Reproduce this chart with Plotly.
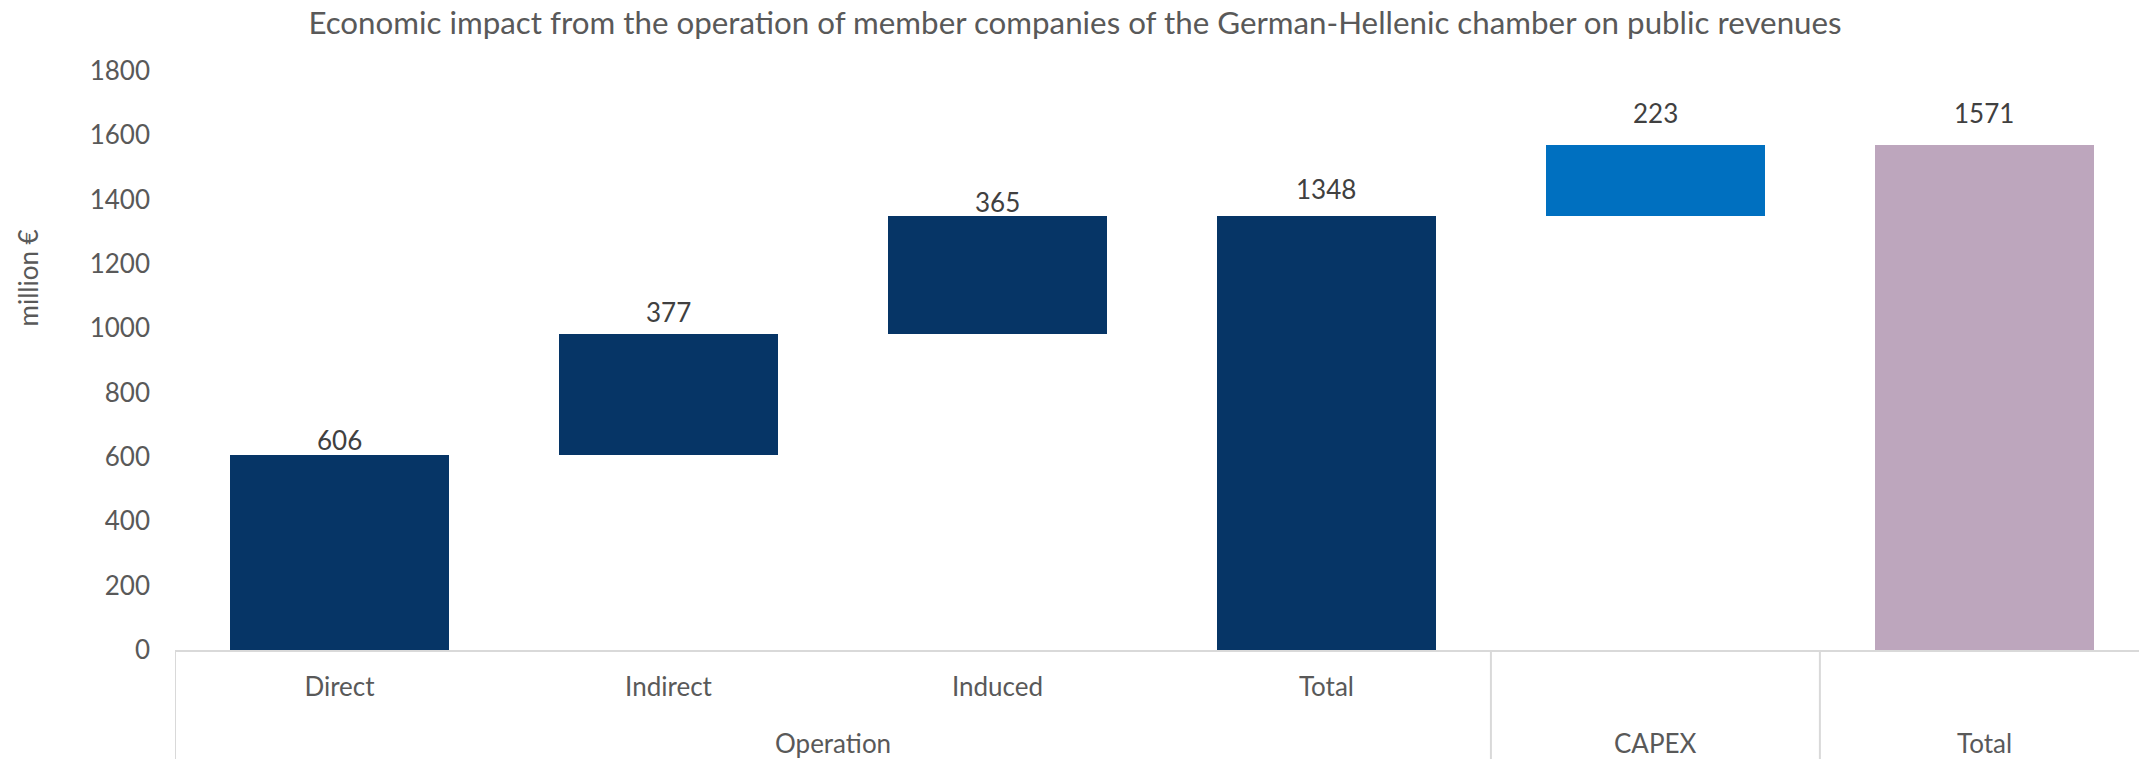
import plotly.graph_objects as go

# ---- data ----
bar_ids = ["Direct", "Indirect", "Induced", "Operation total", "CAPEX", "Grand total"]
inner_labels = ["Direct", "Indirect", "Induced", "Total", "", ""]
group_labels = ["Operation", "CAPEX", "Total"]
group_sizes = [4, 1, 1]
values = [606, 377, 365, 1348, 223, 1571]
measures = ["relative", "relative", "relative", "total", "relative", "total"]
y_ticks = [0, 200, 400, 600, 800, 1000, 1200, 1400, 1600, 1800]

# ---- styling ----
NAVY = "#063566"
BLUE = "#0070C0"
LILAC = "#BDA6BD"
bar_colors = [NAVY, NAVY, NAVY, NAVY, BLUE, LILAC]
label_shift_px = [15, 22, 14, 27, 32, 32]
FONT = "Lato"
AXIS_GREY = "#595959"
LABEL_GREY = "#404040"
LINE_GREY = "#D9D9D9"
FS = 26

# waterfall bases computed from values
bases = []
running = 0
for v, m in zip(values, measures):
    if m == "total":
        bases.append(0)
        running = v
    else:
        bases.append(running)
        running += v
tops = [b + v for b, v in zip(bases, values)]

fig = go.Figure()
fig.add_trace(go.Bar(
    x=bar_ids, y=values, base=bases,
    marker=dict(color=bar_colors, line=dict(width=0)),
    width=0.668, hoverinfo="skip", showlegend=False,
))

W, H = 2139, 759
ML, MR, MT, MB = 175, 0, 71, 109
plot_h = H - MT - MB
plot_w = W - ML - MR
axis_y = H - MB

fig.update_layout(
    width=W, height=H,
    margin=dict(l=ML, r=MR, t=MT, b=MB),
    paper_bgcolor="white", plot_bgcolor="white",
    font=dict(family=FONT, color=AXIS_GREY, size=FS),
    title=dict(
        text="Economic impact from the operation of member companies of the German-Hellenic chamber on public revenues",
        x=1075 / W, xref="container", xanchor="center",
        y=1 - 23 / H, yref="container", yanchor="middle",
        font=dict(family=FONT, size=31.3, color=AXIS_GREY),
    ),
    xaxis=dict(
        type="category", categoryorder="array", categoryarray=bar_ids,
        range=[-0.5, 5.47],
        tickmode="array", tickvals=bar_ids, ticktext=inner_labels,
        showline=True, linecolor=LINE_GREY, linewidth=2,
        ticks="", showgrid=False, zeroline=False,
        ticklabelstandoff=13,
        tickfont=dict(family=FONT, size=FS, color=AXIS_GREY),
    ),
    yaxis=dict(
        range=[0, 1800], tickmode="array", tickvals=y_ticks,
        showgrid=False, zeroline=False, showline=False, ticks="",
        ticklabelstandoff=24,
        tickfont=dict(family=FONT, size=FS, color=AXIS_GREY),
    ),
    bargap=0,
)

# data labels
for bid, top, val, sh in zip(bar_ids, tops, values, label_shift_px):
    fig.add_annotation(
        x=bid, y=top, xref="x", yref="y", text=str(val), showarrow=False,
        yanchor="middle", yshift=sh,
        font=dict(family=FONT, size=FS, color=LABEL_GREY),
    )

# group dividers and group labels
y_bottom = -MB / plot_h
start = -0.5
fig.add_shape(type="line", xref="x", yref="paper", x0=start, x1=start,
              y0=0, y1=y_bottom, line=dict(color=LINE_GREY, width=2))
for name, size in zip(group_labels, group_sizes):
    end = start + size
    fig.add_shape(type="line", xref="x", yref="paper", x0=end, x1=end,
                  y0=0, y1=y_bottom, line=dict(color=LINE_GREY, width=2))
    fig.add_annotation(
        x=(start + end) / 2, xref="x", y=-(743 - axis_y) / plot_h, yref="paper",
        text=name, showarrow=False, yanchor="middle",
        font=dict(family=FONT, size=FS, color=AXIS_GREY),
    )
    start = end

# y axis title
fig.add_annotation(
    x=-(ML - 27.5) / plot_w, xref="paper", y=(axis_y - 278) / plot_h, yref="paper",
    text="million €", textangle=-90, showarrow=False,
    xanchor="center", yanchor="middle",
    font=dict(family=FONT, size=FS, color=AXIS_GREY),
)

fig.write_html(
    "out.html",
    config={"displayModeBar": False},
    post_script="document.body.style.margin='0';document.body.style.overflow='hidden';",
)
